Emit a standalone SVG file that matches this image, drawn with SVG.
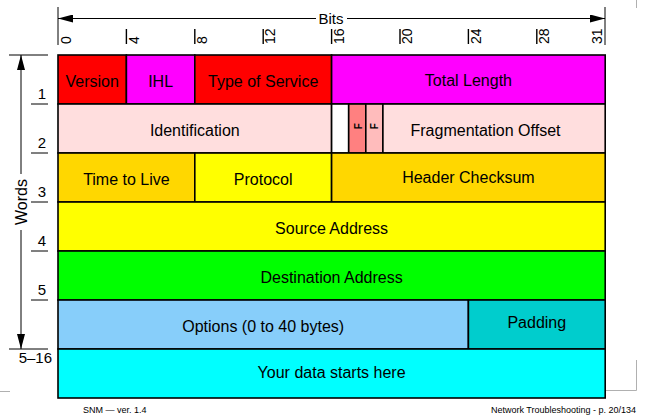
<svg xmlns="http://www.w3.org/2000/svg" width="648" height="417" viewBox="0 0 648 417">
<style>
text{font-family:"Liberation Sans",Arial,Helvetica,sans-serif;fill:#000}
.cell{stroke:#000;stroke-width:1.6}
.lbl{font-size:16px;text-anchor:middle}
.tick{font-size:14px}
.row{font-size:15px;text-anchor:end}
.ax{stroke:#000;stroke-width:1;fill:none}
.tk{stroke:#000;stroke-width:1.4;fill:none}
.frame{stroke:#b0b0b0;stroke-width:1;fill:none}
.foot{font-size:9px}
.flag{font-size:10px;font-weight:bold;text-anchor:middle}
</style>
<defs>
<marker id="ah" viewBox="0 0 15 8" refX="15" refY="4" markerWidth="15" markerHeight="8" markerUnits="userSpaceOnUse" orient="auto">
<path d="M0,0 L15,4 L0,8 Z" fill="#000"/>
</marker>
</defs>
<rect width="648" height="417" fill="#fff"/>
<g id="frame">
<path class="frame" d="M0,391.5 H10"/>
<path class="frame" d="M636.5,360 V390.5 H606"/>
<path class="frame" d="M636.5,0 V8"/>
</g>
<g id="connectors">
<path class="ax" d="M58,7 V45"/>
<path class="ax" d="M605,7 V45"/>
<path class="ax" d="M316,18.5 H58" marker-end="url(#ah)"/>
<path class="ax" d="M347,18.5 H605" marker-end="url(#ah)"/>
<path class="ax" d="M21,174 V55" marker-end="url(#ah)"/>
<path class="ax" d="M21,230 V349" marker-end="url(#ah)"/>
<path class="ax" d="M9,55 H48"/>
<path class="ax" d="M9,349 H48"/>
<path class="ax" d="M31,104 H48 M31,153 H48 M31,202 H48 M31,251 H48 M31,300 H48"/>
<path class="tk" d="M126.4,29 V44 M194.8,29 V44 M263.2,29 V44 M331.6,29 V44 M400,29 V44 M468.4,29 V44 M536.8,29 V44"/>
</g>
<g id="axis-labels">
<text x="331" y="23.5" style="font-size:15px;text-anchor:middle">Bits</text>
<text transform="translate(26.5,202) rotate(-90)" style="font-size:16px;text-anchor:middle">Words</text>
<text class="tick" transform="translate(71,44) rotate(-90)">0</text>
<text class="tick" transform="translate(138.5,44) rotate(-90)">4</text>
<text class="tick" transform="translate(206.9,44) rotate(-90)">8</text>
<text class="tick" transform="translate(275.3,44) rotate(-90)">12</text>
<text class="tick" transform="translate(343.7,44) rotate(-90)">16</text>
<text class="tick" transform="translate(412.1,44) rotate(-90)">20</text>
<text class="tick" transform="translate(480.5,44) rotate(-90)">24</text>
<text class="tick" transform="translate(548.9,44) rotate(-90)">28</text>
<text class="tick" transform="translate(601.5,44) rotate(-90)">31</text>
<text class="row" x="46" y="99">1</text>
<text class="row" x="46" y="148">2</text>
<text class="row" x="46" y="197">3</text>
<text class="row" x="46" y="246">4</text>
<text class="row" x="46" y="295">5</text>
<text class="row" x="52" y="363">5–16</text>
</g>
<g id="version"><rect class="cell" x="58" y="55" width="68.4" height="49" fill="#ff0000"/><text class="lbl" x="92.2" y="87">Version</text></g>
<g id="ihl"><rect class="cell" x="126.4" y="55" width="68.4" height="49" fill="#ff00ff"/><text class="lbl" x="160.6" y="87">IHL</text></g>
<g id="tos"><rect class="cell" x="194.8" y="55" width="136.8" height="49" fill="#ff0000"/><text class="lbl" x="263.2" y="87">Type of Service</text></g>
<g id="total-length"><rect class="cell" x="331.6" y="55" width="273.6" height="49" fill="#ff00ff"/><text class="lbl" x="468.4" y="86">Total Length</text></g>
<g id="identification"><rect class="cell" x="58" y="104" width="273.6" height="49" fill="#ffdede"/><text class="lbl" x="194.8" y="136">Identification</text></g>
<g id="flag0"><rect class="cell" x="331.6" y="104" width="17.1" height="49" fill="#ffffff"/></g>
<g id="flag-df"><rect class="cell" x="348.7" y="104" width="17.1" height="49" fill="#ff8080"/><text class="flag" transform="translate(361.5,126.3) rotate(-90)">F</text></g>
<g id="flag-mf"><rect class="cell" x="365.8" y="104" width="17.1" height="49" fill="#ffbcbc"/><text class="flag" transform="translate(378.4,126.3) rotate(-90)">F</text></g>
<g id="frag-offset"><rect class="cell" x="382.9" y="104" width="222.3" height="49" fill="#ffdede"/><text class="lbl" x="485.5" y="136">Fragmentation Offset</text></g>
<g id="ttl"><rect class="cell" x="58" y="153" width="136.8" height="49" fill="#ffd700"/><text class="lbl" x="126.4" y="185">Time to Live</text></g>
<g id="protocol"><rect class="cell" x="194.8" y="153" width="136.8" height="49" fill="#ffff00"/><text class="lbl" x="263.2" y="185">Protocol</text></g>
<g id="checksum"><rect class="cell" x="331.6" y="153" width="273.6" height="49" fill="#ffd700"/><text class="lbl" x="468.4" y="183">Header Checksum</text></g>
<g id="source"><rect class="cell" x="58" y="202" width="547.2" height="49" fill="#ffff00"/><text class="lbl" x="331.6" y="234">Source Address</text></g>
<g id="destination"><rect class="cell" x="58" y="251" width="547.2" height="49" fill="#00ff00"/><text class="lbl" x="331.6" y="283">Destination Address</text></g>
<g id="options"><rect class="cell" x="58" y="300" width="410.4" height="49" fill="#87cefa"/><text class="lbl" x="263.2" y="332">Options (0 to 40 bytes)</text></g>
<g id="padding"><rect class="cell" x="468.4" y="300" width="136.8" height="49" fill="#00cdcd"/><text class="lbl" x="536.8" y="328">Padding</text></g>
<g id="data"><rect class="cell" x="58" y="349" width="547.2" height="49" fill="#00ffff"/><text class="lbl" x="331.6" y="378">Your data starts here</text></g>
<g id="footer">
<text class="foot" x="83" y="413">SNM — ver. 1.4</text>
<text class="foot" x="636" y="413" style="text-anchor:end">Network Troubleshooting - p. 20/134</text>
</g>
</svg>
